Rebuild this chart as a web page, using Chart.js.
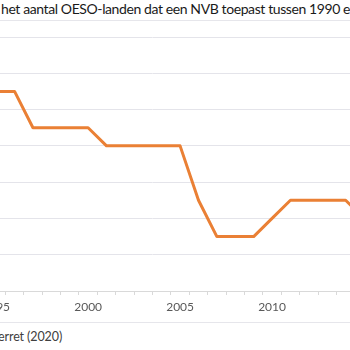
<!DOCTYPE html>
<html>
<head>
<meta charset="utf-8">
<script src="https://cdn.jsdelivr.net/npm/chart.js@4.4.0/dist/chart.umd.min.js"></script>
<style>
  html, body { margin: 0; padding: 0; background: #fff; }
  body { width: 350px; height: 350px; position: relative; overflow: hidden; font-family: Lato, "Open Sans", sans-serif; }
  #chart { position: absolute; left: -145px; top: 0; }
  .rule { position: absolute; left: 0; width: 350px; height: 1px; background: #e6e6eb; }
  .txt { position: absolute; white-space: nowrap; }
  .txt .pre { position: absolute; right: 100%; top: 0; }
  #title { left: 1px; top: 0px; font-size: 14px; letter-spacing: -0.4px; color: #1a1a1a; }
  #source { left: -2px; top: 329px; font-size: 12.5px; letter-spacing: -0.1px; color: #404040; }
</style>
</head>
<body>
<div class="txt" id="title"><span class="pre">Figuur 1: Evolutie van&nbsp;</span>het aantal OESO-landen dat een NVB toepast tussen 1990 en 2017</div>
<div class="rule" style="top:20px"></div>
<canvas id="chart" width="570" height="321"></canvas>
<div class="rule" style="top:322px"></div>
<div class="txt" id="source"><span class="pre">Bron: P</span>erret (2020)</div>
<script>
// Years on the x axis (category axis, one tick per year)
const years = ['1990', '1991', '1992', '1993', '1994', '1995', '1996', '1997', '1998', '1999',
               '2000', '2001', '2002', '2003', '2004', '2005', '2006', '2007', '2008', '2009',
               '2010', '2011', '2012', '2013', '2014', '2015', '2016', '2017'];

// Number of OECD countries levying a net wealth tax (NVB)
const countries = [12, 12, 12, 12, 11, 11, 11, 9, 9, 9,
                   9, 8, 8, 8, 8, 8, 5, 3, 3, 3,
                   4, 5, 5, 5, 5, 4, 4, 4];

// y axis range
const yMin = 0;
const yMax = 14;
const yStep = 2;

var ctx = document.getElementById('chart').getContext('2d');

var chart = new Chart(ctx, {
    type: 'line',
    data: {
        labels: years,
        datasets: [{
            label: 'Aantal OESO-landen met NVB',
            data: countries,
            borderColor: '#EA8035',
            backgroundColor: '#EA8035',
            borderWidth: 3,
            borderJoinStyle: 'round',
            pointRadius: 0,
            tension: 0
        }]
    },
    options: {
        responsive: false,
        animation: false,
        layout: {
            padding: { top: 37, right: 15, bottom: 0, left: 0 }
        },
        plugins: {
            legend: { display: false },
            tooltip: { enabled: false }
        },
        scales: {
            x: {
                offset: true,
                afterFit: function (axis) { axis.height = 30; },
                grid: {
                    offset: true,
                    drawOnChartArea: false,
                    drawTicks: true,
                    tickLength: 4,
                    color: '#d9d9d9'
                },
                border: { color: '#d9d9d9' },
                ticks: {
                    autoSkip: false,
                    maxRotation: 0,
                    padding: 5,
                    color: '#595959',
                    font: { family: 'Lato', size: 12 },
                    callback: function (value) {
                        const y = this.getLabelForValue(value);
                        return Number(y) % 5 === 0 ? y : '';
                    }
                }
            },
            y: {
                min: yMin,
                max: yMax,
                afterFit: function (axis) { axis.width = 40; },
                grid: { color: '#e4e4ea', drawTicks: false },
                border: { display: false },
                ticks: {
                    stepSize: yStep,
                    padding: 8,
                    color: '#595959',
                    font: { family: 'Lato', size: 12 }
                }
            }
        }
    }
});
</script>
</body>
</html>
